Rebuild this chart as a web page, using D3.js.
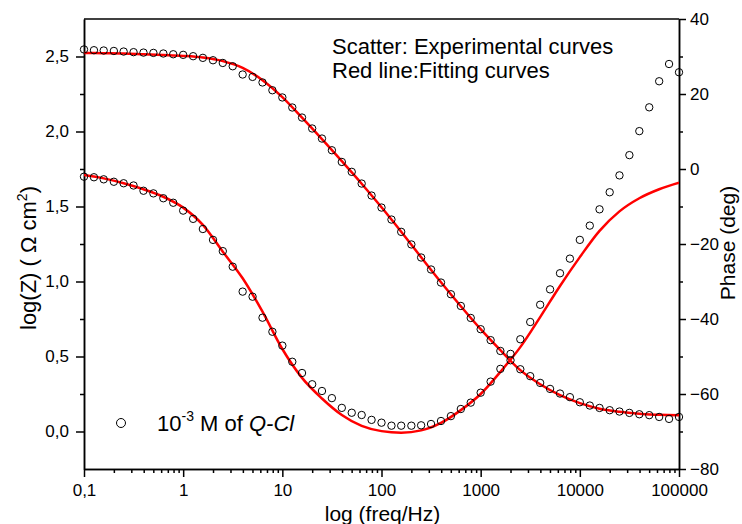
<!DOCTYPE html>
<html>
<head>
<meta charset="utf-8">
<script src="https://cdn.jsdelivr.net/npm/d3@7"></script>
<style>
  body { margin: 0; background: #fff; }
  svg { font-family: "Liberation Sans", Arial, sans-serif; }
</style>
</head>
<body>
<div id="vis"></div>
<script>
//data

// frequencies of the experimental points (Hz)
const freq = [0.1, 0.126, 0.158, 0.2, 0.251, 0.316, 0.398, 0.501, 0.631, 0.794,
  1, 1.26, 1.58, 2, 2.51, 3.16, 3.98, 5.01, 6.31, 7.94,
  10, 12.6, 15.8, 20, 25.1, 31.6, 39.8, 50.1, 63.1, 79.4,
  100, 126, 158, 200, 251, 316, 398, 501, 631, 794,
  1000, 1260, 1580, 2000, 2510, 3160, 3980, 5010, 6310, 7940,
  10000, 12600, 15800, 20000, 25100, 31600, 39800, 50100, 63100, 79400, 100000];

// log|Z| experimental (left axis)
const logZ = [2.547, 2.542, 2.54, 2.537, 2.533, 2.529, 2.526, 2.524, 2.52, 2.515,
  2.511, 2.502, 2.491, 2.475, 2.457, 2.435, 2.38, 2.364, 2.327, 2.275,
  2.227, 2.16, 2.093, 2.02, 1.953, 1.875, 1.797, 1.731, 1.653, 1.573,
  1.493, 1.413, 1.331, 1.247, 1.16, 1.08, 0.993, 0.915, 0.837, 0.757,
  0.682, 0.609, 0.537, 0.475, 0.415, 0.369, 0.324, 0.284, 0.253, 0.229,
  0.195, 0.173, 0.157, 0.142, 0.133, 0.124, 0.115, 0.109, 0.097, 0.084, 0.097];

// phase experimental (right axis, deg)
const phase = [-2.05, -2.2, -2.75, -3.4, -3.8, -4.4, -5.8, -6.5, -7.8, -9.0,
  -11.1, -13.3, -16, -18.9, -21.9, -26.05, -32.7, -34.05, -39.65, -43.4,
  -47.1, -51.4, -54.4, -57.4, -59.2, -61.1, -63.7, -65, -65.6, -66.9,
  -67.65, -68.45, -68.45, -68.45, -68.35, -68, -67.2, -65.9, -64, -62.3,
  -59.65, -56.7, -53.3, -49.3, -45.4, -40.8, -36.2, -32.1, -27.8, -23.9,
  -18.9, -15.1, -10.75, -6.2, -1.7, 3.7, 10.1, 16.45, 23.4, 28, 25.8];

// fitted curves (red lines)
const fitFreq = [0.1, 0.158, 0.251, 0.398, 0.631, 1, 1.58, 2.51, 3.98, 6.31,
  10, 15.8, 25.1, 39.8, 63.1, 100, 158, 251, 398, 631,
  1000, 1580, 2510, 3980, 6310, 10000, 15800, 25100, 39800, 63100, 100000];
const fitLogZ = [2.524, 2.522, 2.52, 2.515, 2.51, 2.504, 2.493, 2.469, 2.424, 2.342,
  2.229, 2.092, 1.949, 1.802, 1.652, 1.495, 1.332, 1.162, 0.995, 0.835,
  0.682, 0.542, 0.409, 0.315, 0.242, 0.189, 0.152, 0.132, 0.119, 0.111, 0.109];
const fitPhase = [-1.6, -2.5, -3.8, -5.4, -7.4, -10.3, -14.9, -22.05, -29.15, -38.05,
  -48, -55.7, -61.2, -65.6, -68.5, -69.9, -70.3, -69.7, -67.7, -64.3,
  -60, -54.1, -47.5, -39.5, -31.2, -23.5, -16.5, -11.3, -7.8, -5.4, -3.65];

// axis ticks
const xTicks = [0.1, 1, 10, 100, 1000, 10000, 100000];
const yTicks = [0, 0.5, 1.0, 1.5, 2.0, 2.5];
const yMinor = [0.25, 0.75, 1.25, 1.75, 2.25];
const y2Ticks = [-80, -60, -40, -20, 0, 20, 40];
const y2Minor = [-70, -50, -30, -10, 10, 30];

//frame
const FRAME_WIDTH = 742;
const FRAME_HEIGHT = 524;
const MARGINS = {left: 84, right: 63, top: 19, bottom: 55};
const VIS_WIDTH = FRAME_WIDTH - MARGINS.left - MARGINS.right;
const VIS_HEIGHT = FRAME_HEIGHT - MARGINS.top - MARGINS.bottom;

const FRAME = d3.select("#vis")
  .append("svg")
  .attr("width", FRAME_WIDTH)
  .attr("height", FRAME_HEIGHT);

const X_SCALE = d3.scaleLog().domain([0.1, 100000]).range([MARGINS.left, MARGINS.left + VIS_WIDTH]);
const Y_SCALE = d3.scaleLinear().domain([-0.25, 2.75]).range([MARGINS.top + VIS_HEIGHT, MARGINS.top]);
const Y2_SCALE = d3.scaleLinear().domain([-80, 40]).range([MARGINS.top + VIS_HEIGHT, MARGINS.top]);

const comma = (d) => String(d).replace(".", ",");

// minor x ticks: 2..9 in each decade
const xMinor = [];
xTicks.slice(0, -1).forEach((t) => {
  for (let k = 2; k <= 9; k++) xMinor.push(t * k);
});

function styleAxis(g) {
  g.select(".domain").attr("stroke", "#000").attr("stroke-width", 1.5);
  g.selectAll(".tick line").attr("stroke", "#000").attr("stroke-width", 1.5);
  g.selectAll(".tick text").attr("fill", "#000").attr("font-size", "17px");
}

// bottom axis
FRAME.append("g")
  .attr("transform", "translate(0," + (MARGINS.top + VIS_HEIGHT) + ")")
  .call(d3.axisBottom(X_SCALE).tickValues(xTicks).tickFormat(comma).tickSize(8).tickPadding(7).tickSizeOuter(0))
  .call(styleAxis);
FRAME.append("g")
  .attr("transform", "translate(0," + (MARGINS.top + VIS_HEIGHT) + ")")
  .call(d3.axisBottom(X_SCALE).tickValues(xMinor).tickFormat("").tickSize(4).tickSizeOuter(0))
  .call(styleAxis);

// top line
FRAME.append("line")
  .attr("x1", MARGINS.left).attr("x2", MARGINS.left + VIS_WIDTH)
  .attr("y1", MARGINS.top).attr("y2", MARGINS.top)
  .attr("stroke", "#000").attr("stroke-width", 1.5);

// left axis
FRAME.append("g")
  .attr("transform", "translate(" + MARGINS.left + ",0)")
  .call(d3.axisLeft(Y_SCALE).tickValues(yTicks).tickFormat((d) => comma(d3.format(".1f")(d))).tickSize(8).tickPadding(7).tickSizeOuter(0))
  .call(styleAxis);
FRAME.append("g")
  .attr("transform", "translate(" + MARGINS.left + ",0)")
  .call(d3.axisLeft(Y_SCALE).tickValues(yMinor).tickFormat("").tickSize(4).tickSizeOuter(0))
  .call(styleAxis);

// right axis
FRAME.append("g")
  .attr("transform", "translate(" + (MARGINS.left + VIS_WIDTH) + ",0)")
  .call(d3.axisRight(Y2_SCALE).tickValues(y2Ticks).tickSize(7).tickPadding(4).tickSizeOuter(0))
  .call(styleAxis);
FRAME.append("g")
  .attr("transform", "translate(" + (MARGINS.left + VIS_WIDTH) + ",0)")
  .call(d3.axisRight(Y2_SCALE).tickValues(y2Minor).tickFormat("").tickSize(4).tickSizeOuter(0))
  .call(styleAxis);

// clip
FRAME.append("clipPath").attr("id", "clip")
  .append("rect")
  .attr("x", MARGINS.left).attr("y", MARGINS.top)
  .attr("width", VIS_WIDTH).attr("height", VIS_HEIGHT);

const plot = FRAME.append("g");

// fitted lines
const fitData = fitFreq.map((f, i) => ({f: f, z: fitLogZ[i], p: fitPhase[i]}));
const zLine = d3.line().x((d) => X_SCALE(d.f)).y((d) => Y_SCALE(d.z)).curve(d3.curveMonotoneX);
const pLine = d3.line().x((d) => X_SCALE(d.f)).y((d) => Y2_SCALE(d.p)).curve(d3.curveMonotoneX);

plot.append("path").datum(fitData)
  .attr("d", zLine).attr("fill", "none").attr("stroke", "#ff0000").attr("stroke-width", 2.5)
  .attr("clip-path", "url(#clip)");
plot.append("path").datum(fitData)
  .attr("d", pLine).attr("fill", "none").attr("stroke", "#ff0000").attr("stroke-width", 2.5)
  .attr("clip-path", "url(#clip)");

// experimental points
const expData = freq.map((f, i) => ({f: f, z: logZ[i], p: phase[i]}));

plot.selectAll(".zpt").data(expData).enter().append("circle")
  .attr("cx", (d) => X_SCALE(d.f)).attr("cy", (d) => Y_SCALE(d.z))
  .attr("r", 3.7).attr("fill", "none").attr("stroke", "#000").attr("stroke-width", 1);
plot.selectAll(".ppt").data(expData).enter().append("circle")
  .attr("cx", (d) => X_SCALE(d.f)).attr("cy", (d) => Y2_SCALE(d.p))
  .attr("r", 3.7).attr("fill", "none").attr("stroke", "#000").attr("stroke-width", 1);

// axis titles
FRAME.append("text")
  .attr("x", MARGINS.left + VIS_WIDTH / 2 + 1).attr("y", 521)
  .attr("text-anchor", "middle").attr("font-size", "21px")
  .text("log (freq/Hz)");

const yTitle = FRAME.append("text")
  .attr("transform", "translate(36,258) rotate(-90)")
  .attr("text-anchor", "middle").attr("font-size", "22px");
yTitle.append("tspan").text("log(Z) ( \u03A9 cm");
yTitle.append("tspan").attr("dy", -9).attr("font-size", "14px").text("2");
yTitle.append("tspan").attr("dy", 9).text(")");

FRAME.append("text")
  .attr("transform", "translate(735,243) rotate(-90)")
  .attr("text-anchor", "middle").attr("font-size", "21px")
  .text("Phase (deg)");

// notes
FRAME.append("text").attr("x", 332).attr("y", 54).attr("font-size", "22px")
  .text("Scatter: Experimental curves");
FRAME.append("text").attr("x", 332).attr("y", 78).attr("font-size", "22px")
  .text("Red line:Fitting curves");

// legend
FRAME.append("circle").attr("cx", 121).attr("cy", 423).attr("r", 4.5)
  .attr("fill", "none").attr("stroke", "#000").attr("stroke-width", 1);
const leg = FRAME.append("text").attr("x", 157).attr("y", 431).attr("font-size", "22px");
leg.append("tspan").text("10");
leg.append("tspan").attr("dy", -10).attr("font-size", "14px").text("-3");
leg.append("tspan").attr("dy", 10).text(" M of ");
leg.append("tspan").attr("font-style", "italic").text("Q-Cl");
</script>
</body>
</html>
